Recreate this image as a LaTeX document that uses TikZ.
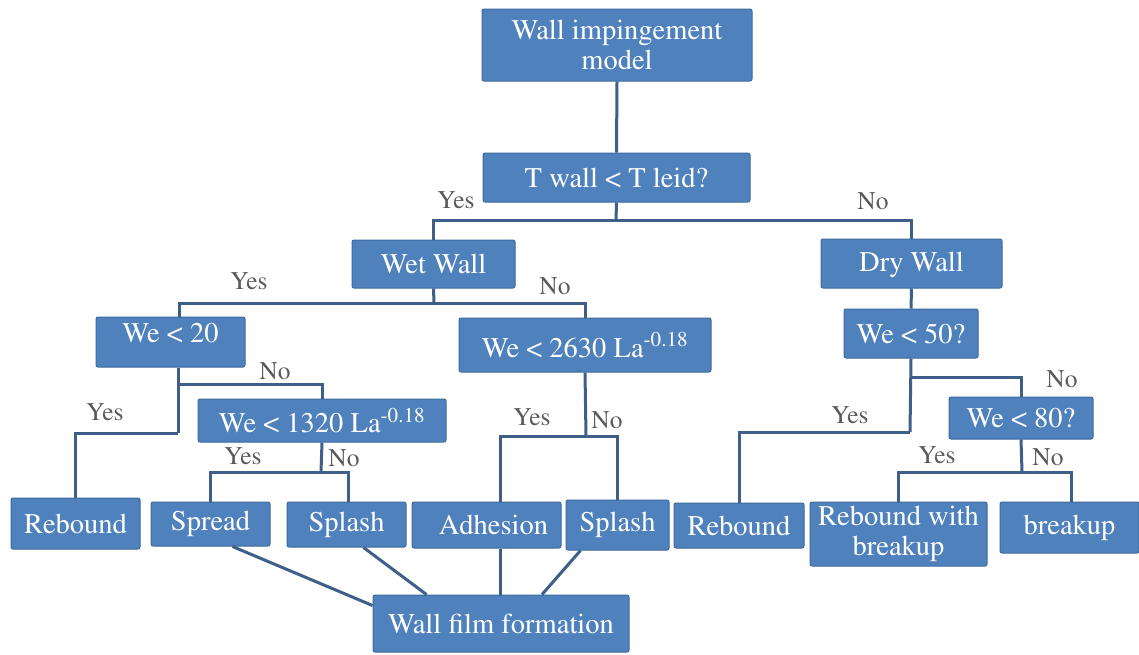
\documentclass[tikz,border=0pt]{standalone}
\usepackage[T1]{fontenc}
\usepackage{mathptmx}
\usetikzlibrary{calc}
\definecolor{boxblue}{HTML}{4F81BD}
\definecolor{boxedge}{HTML}{3D6A9E}
\definecolor{linec}{HTML}{3E5F87}
\definecolor{labc}{HTML}{595959}
\begin{document}
\begin{tikzpicture}[x=1pt,y=-1pt,
  box/.style={draw=boxedge, line width=1pt, fill=boxblue, text=white, rounded corners=2pt,
    inner sep=0pt, align=center, font=\fontsize{28.5}{30.5}\selectfont},
  conn/.style={draw=linec, line width=3pt},
  lab/.style={text=labc, font=\fontsize{25.5}{27}\selectfont, inner sep=0pt}]
\fill[white] (0,0) rectangle (1139,654);
\useasboundingbox (0,0) rectangle (1139,654);

% boxes
\node[box, minimum width=270pt, minimum height=72pt] (top) at (617,45) {Wall impingement\\model};
\node[box, minimum width=267pt, minimum height=49pt] (tq) at (616.5,177.5) {T wall < T leid?};
\node[box, minimum width=163pt, minimum height=48pt] (wet) at (433.5,264) {Wet Wall};
\node[box, minimum width=181pt, minimum height=49pt, text depth=3pt] (dry) at (911.5,263.5) {Dry Wall};
\node[box, minimum width=149pt, minimum height=50pt, text depth=18pt] (we20) at (170.5,342) {We < 20};
\node[box, minimum width=252pt, minimum height=54pt] (we2630) at (585,345) {We < 2630 La\textsuperscript{-0.18}};
\node[box, minimum width=134pt, minimum height=49pt] (we50) at (911,333.5) {We < 50?};
\node[box, minimum width=248pt, minimum height=43pt] (we1320) at (322,420.5) {We < 1320 La\textsuperscript{-0.18}};
\node[box, minimum width=144pt, minimum height=42pt] (we80) at (1021,418) {We < 80?};
\node[box, minimum width=129pt, minimum height=51pt] (reb1) at (75.5,523.5) {Rebound};
\node[box, minimum width=119pt, minimum height=44pt] (spread) at (210.5,524) {Spread};
\node[box, minimum width=119pt, minimum height=45pt] (splash1) at (346.5,524.5) {Splash};
\node[box, minimum width=149pt, minimum height=46pt] (adh) at (486.5,525) {\hspace*{14pt}Adhesion};
\node[box, minimum width=103pt, minimum height=50pt] (splash2) at (617.5,525) {Splash};
\node[box, minimum width=130pt, minimum height=45pt] (reb2) at (739,525.5) {Rebound};
\node[box, minimum width=177pt, minimum height=64pt] (rwb) at (898.5,534) {Rebound with\\breakup};
\node[box, minimum width=139pt, minimum height=51pt] (brk) at (1069.5,527.5) {breakup};
\node[box, minimum width=256pt, minimum height=57pt] (wff) at (501,623.5) {Wall film formation};

% junctions
\coordinate (j1) at (616,220);
\coordinate (j2) at (434,303);
\coordinate (j3) at (178,384);
\coordinate (j4) at (178,433);
\coordinate (j5) at (321,472);
\coordinate (j6) at (586,436);
\coordinate (j7) at (910,377);
\coordinate (j8) at (910,432);
\coordinate (j9) at (1022,472);

% connectors
\draw[conn] (top.south) -- (tq.north);
\draw[conn] (tq.south) -- (j1);
\draw[conn] (wet.north) |- (j1);
\draw[conn] (dry.north) |- (j1);
\draw[conn] (wet.south) -- (j2);
\draw[conn] ([xshift=8.5pt]we20.north) |- (j2);
\draw[conn] (we2630.north) |- (j2);
\draw[conn] ([xshift=7.5pt]we20.south) -- (j4);
\draw[conn] (reb1.north) |- (j4);
\draw[conn] (we1320.north) |- (j3);
\draw[conn] (we1320.south) -- (j5);
\draw[conn] (spread.north) |- (j5);
\draw[conn] ([xshift=1.5pt]splash1.north) |- (j5);
\draw[conn] (we2630.south) -- (j6);
\draw[conn] ([xshift=13.5pt]adh.north) |- (j6);
\draw[conn] (splash2.north) |- (j6);
\draw[conn] (dry.south) -- (we50.north);
\draw[conn] (we50.south) -- (j8);
\draw[conn] (we80.north) |- (j7);
\draw[conn] (reb2.north) |- (j8);
\draw[conn] (we80.south) -- (j9);
\draw[conn] (rwb.north) |- (j9);
\draw[conn] ([xshift=1.5pt]brk.north) |- (j9);
% to wall film formation
\draw[conn] ([xshift=22pt]spread.south) -- ([yshift=-11pt]wff.north west);
\draw[conn] ([xshift=17pt]splash1.south) -- ([xshift=54pt]wff.north west);
\draw[conn] ([xshift=13.5pt]adh.south) -- ([xshift=-1pt]wff.north);
\draw[conn] ([xshift=-37pt]splash2.south) -- ([xshift=41pt]wff.north);

% labels
\node[lab] (l1) at (456,200) {Yes};
\node[lab] (l2) at (873,201) {No};
\node[lab] (l3) at (249,281) {Yes};
\node[lab] (l4) at (555,286) {No};
\node[lab] (l5) at (105,412) {Yes};
\node[lab] (l6) at (275,371) {No};
\node[lab] (l7) at (243,456) {Yes};
\node[lab] (l8) at (344,458) {No};
\node[lab] (l9) at (532,417) {Yes};
\node[lab] (l10) at (607,420) {No};
\node[lab] (l11) at (850,415) {Yes};
\node[lab] (l12) at (1062,379) {No};
\node[lab] (l13) at (937,455) {Yes};
\node[lab] (l14) at (1048,457) {No};
\end{tikzpicture}
\end{document}
